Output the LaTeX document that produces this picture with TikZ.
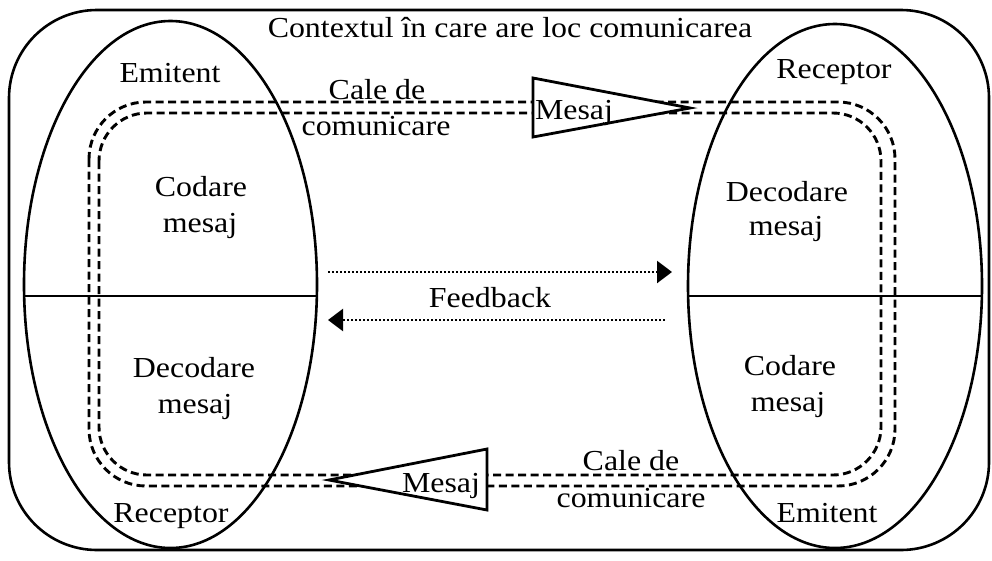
\documentclass[tikz,border=0pt]{standalone}
\usepackage{fontspec}
\setmainfont{Liberation Serif}[FakeStretch=1.1]
\usetikzlibrary{arrows.meta}
\begin{document}
\begin{tikzpicture}[x=1pt,y=-1pt,
  lbl/.style={font=\fontsize{29}{36}\selectfont, inner sep=0pt, anchor=base},
  solidline/.style={line width=2.6pt},
  dashline/.style={line width=2.9pt, dash pattern=on 8pt off 4.5pt},
  dotline/.style={line width=2.5pt, dash pattern=on 2pt off 2pt, -{Triangle[length=15pt,width=22pt]}},
  msgtri/.style={line width=2.8pt, fill=white, line join=miter}]
\useasboundingbox (0,0) rectangle (992,560);
% outer context box
\draw[solidline, rounded corners=88pt] (9,10) rectangle (989,550);
% ellipses
\draw[solidline] (170.5,284.5) ellipse [x radius=146.5, y radius=263.5];
\draw[solidline] (835,286) ellipse [x radius=147, y radius=262];
\draw[solidline] (24,296) -- (317,296);
\draw[solidline] (688,296) -- (982,296);
% dashed channels
\draw[dashline, rounded corners=57pt] (89,102) rectangle (895,486);
\draw[dashline, rounded corners=48pt] (99,113) rectangle (881,475);
% message triangles
\draw[msgtri] (533,78) -- (690,108) -- (533,137) -- cycle;
\draw[msgtri] (487,449) -- (329,480) -- (487,510) -- cycle;
% texts
\node[lbl] (ctx) at (510,37) {Contextul în care are loc comunicarea};
\node[lbl] (em1) at (170,82) {Emitent};
\node[lbl] (cale1) at (377,99) {Cale de};
\node[lbl] (com1) at (376,135) {comunicare};
\node[lbl] (mes1) at (574,119) {Mesaj};
\node[lbl] (rec1) at (834,78) {Receptor};
\node[lbl] (cod1) at (201,196) {Codare};
\node[lbl] (cod1b) at (200,232) {mesaj};
\node[lbl] (dec1) at (194,377) {Decodare};
\node[lbl] (dec1b) at (195,413) {mesaj};
\node[lbl] (dec2) at (787,201) {Decodare};
\node[lbl] (dec2b) at (786,235) {mesaj};
\node[lbl] (cod2) at (790,375) {Codare};
\node[lbl] (cod2b) at (788,411) {mesaj};
\node[lbl] (fb) at (490,307) {Feedback};
\node[lbl] (cale2) at (631,470) {Cale de};
\node[lbl] (com2) at (631,507) {comunicare};
\node[lbl] (mes2) at (441,492) {Mesaj};
\node[lbl] (rec2) at (171,522) {Receptor};
\node[lbl] (em2) at (827,522) {Emitent};
% feedback arrows
\coordinate (fa1) at (328,272);
\coordinate (fa2) at (672,272);
\coordinate (fb1) at (665,320);
\coordinate (fb2) at (328,320);
\draw[dotline] (fa1) -- (fa2);
\draw[dotline] (fb1) -- (fb2);
\end{tikzpicture}
\end{document}
